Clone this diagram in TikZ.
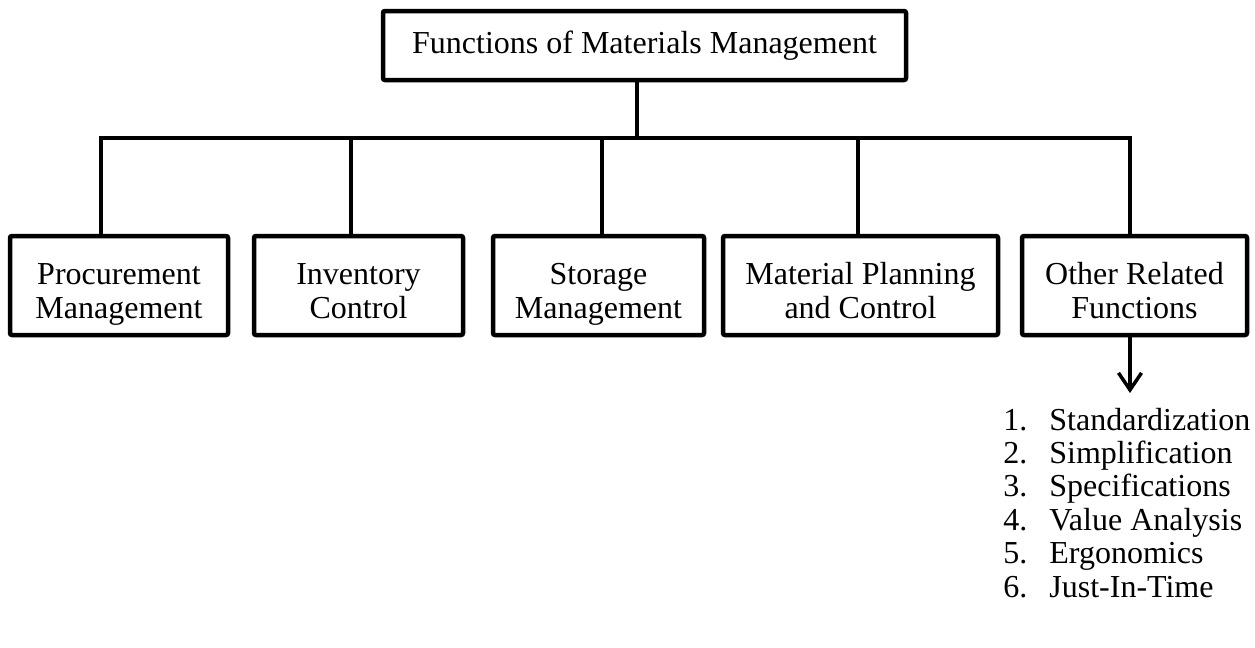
\documentclass[tikz,border=0pt]{standalone}
\usepackage{fontspec}
\setmainfont{Liberation Serif}
\usetikzlibrary{arrows.meta}
\newcommand{\twoline}[2]{\rule{0pt}{20pt}#1\\#2\rule[-4pt]{0pt}{4pt}}
\begin{document}
\begin{tikzpicture}[x=0.5pt, y=-0.5pt, >={Straight Barb[length=8.5pt, width=11.5pt]},
    font=\fontsize{16}{17}\selectfont,
    fbox/.style={draw, line width=2.25pt, rounded corners=1pt, inner sep=0pt, align=center, minimum height=49.5pt},
    conn/.style={line width=1.75pt}]
    \useasboundingbox (0,0) rectangle (1255,648);
    % 上の箱
    \node[fbox, minimum width=261.5pt, minimum height=34.5pt] (top) at (644.5,45.5) {Functions of Materials Management};
    % 下の箱
    \node[fbox, minimum width=109pt] (proc) at (119,285.5) {\twoline{Procurement}{Management}};
    \node[fbox, minimum width=104.5pt] (inv) at (358.5,285.5) {\twoline{Inventory}{Control}};
    \node[fbox, minimum width=105.5pt] (stor) at (598.5,285.5) {\twoline{Storage}{Management}};
    \node[fbox, minimum width=137.5pt] (mat) at (860.5,285.5) {\twoline{Material Planning}{and Control}};
    \node[fbox, minimum width=112.5pt] (oth) at (1134.5,285.5) {\twoline{Other Related}{Functions}};
    % 横線
    \coordinate (bus) at (637,138);
    \coordinate (b1) at (101,138);
    \coordinate (b2) at (351,138);
    \coordinate (b3) at (602,138);
    \coordinate (b4) at (858,138);
    \coordinate (b5) at (1130,138);
    \draw[conn] (top.south -| bus) -- (bus);
    \draw[conn] (b1 |- proc.north) -- (b1) -- (b5) -- (b5 |- oth.north);
    \draw[conn] (b2) -- (b2 |- inv.north);
    \draw[conn] (b3) -- (b3 |- stor.north);
    \draw[conn] (b4) -- (b4 |- mat.north);
    % 矢印
    \coordinate (tip) at (1130,393);
    \draw[conn, ->] (oth.south -| tip) -- (tip);
    % 一覧
    \foreach \i/\lbl in {1/Standardization, 2/Simplification, 3/Specifications,
        4/Value Analysis, 5/Ergonomics, 6/Just-In-Time} {
      \node[anchor=base west, inner sep=0pt] (num\i) at (1003, 396.6+33.4*\i) {\i.};
      \node[anchor=base west, inner sep=0pt] (item\i) at (1049, 396.6+33.4*\i) {\lbl};
    }
\end{tikzpicture}
\end{document}
